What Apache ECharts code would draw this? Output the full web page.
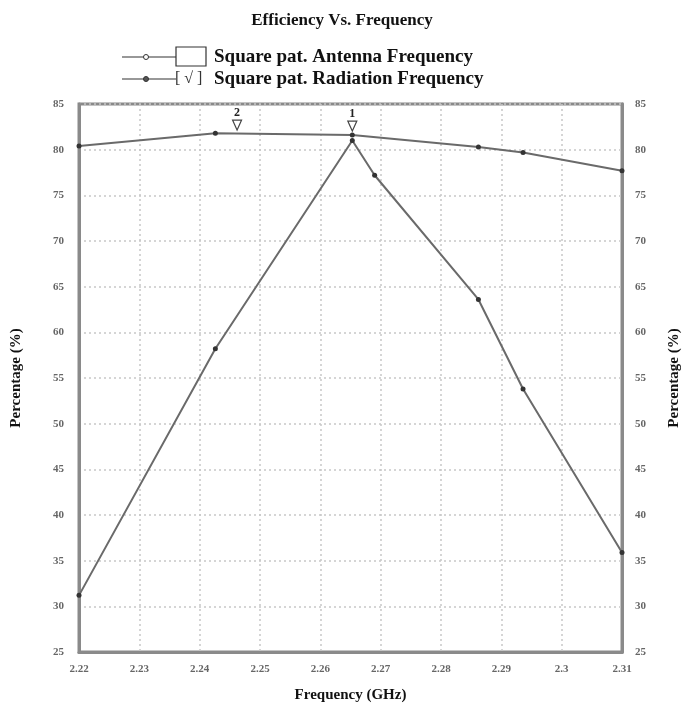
<!DOCTYPE html>
<html>
<head>
<meta charset="utf-8">
<script src="https://cdn.jsdelivr.net/npm/echarts@6/dist/echarts.min.js"></script>
<style>
  html, body { margin: 0; padding: 0; background: #fff; }
  #main { width: 684px; height: 709px; }
</style>
</head>
<body>
<div id="main"></div>
<script>
// Data
var antennaFreq = [2.22, 2.2426, 2.2653, 2.2862, 2.2936, 2.31];
var antennaEff = [80.4, 81.8, 81.6, 80.3, 79.7, 77.7];
var radiationFreq = [2.22, 2.2426, 2.2653, 2.2690, 2.2862, 2.2936, 2.31];
var radiationEff = [31.2, 58.2, 81.0, 77.2, 63.6, 53.8, 35.9];
var markerFreq = [2.2462, 2.2653];
var markerEff = [81.7, 81.6];
var markerNames = ['2', '1'];

var serif = '"Liberation Serif", "DejaVu Serif", serif';
var lineColor = '#6a6a6a';

function pairs(xs, ys) {
  return xs.map(function (x, i) { return [x, ys[i]]; });
}

var myChart = echarts.init(document.getElementById('main'));

var yAxisCommon = {
  type: 'value',
  min: 25,
  max: 85,
  interval: 5,
  name: 'Percentage (%)',
  nameLocation: 'center',
  nameTextStyle: { fontFamily: serif, fontWeight: 'bold', fontSize: 15, color: '#111' },
  axisLine: { show: true, lineStyle: { color: '#8a8a8a', width: 3 } },
  axisTick: { show: false }
};

var labelStyle = { fontFamily: serif, fontSize: 11, color: '#666', fontWeight: 'bold' };

var option = {
  animation: false,
  backgroundColor: '#fff',
  title: {
    text: 'Efficiency Vs. Frequency',
    left: 'center',
    top: 7,
    textStyle: { fontFamily: serif, fontWeight: 'bold', fontSize: 17, color: '#111' }
  },
  grid: {
    left: 79, right: 62, top: 104, bottom: 57,
    outerBoundsMode: 'none',
    containLabel: false,
    show: true, borderColor: '#8a8a8a', borderWidth: 3
  },
  xAxis: {
    type: 'value',
    min: 2.22,
    max: 2.31,
    interval: 0.01,
    name: 'Frequency (GHz)',
    nameLocation: 'center',
    nameGap: 36,
    nameTextStyle: { fontFamily: serif, fontWeight: 'bold', fontSize: 15, color: '#111' },
    axisLine: { lineStyle: { color: '#8a8a8a', width: 3 } },
    axisTick: { show: false },
    axisLabel: Object.assign({}, labelStyle, {
      margin: 12,
      formatter: function (v) { return String(Math.round(v * 100) / 100); }
    }),
    splitLine: { show: true, lineStyle: { color: '#c8c8c8', type: [2, 3], width: 1.5 } }
  },
  yAxis: [
    Object.assign({}, yAxisCommon, {
      position: 'left',
      nameGap: 55,
      axisLabel: Object.assign({}, labelStyle, { margin: 15 }),
      splitLine: { show: true, lineStyle: { color: '#c8c8c8', type: [2, 3], width: 1.5 } }
    }),
    Object.assign({}, yAxisCommon, {
      position: 'right',
      nameGap: 45,
      axisLabel: Object.assign({}, labelStyle, { margin: 13 }),
      splitLine: { show: false }
    })
  ],
  graphic: [
    // legend row 1
    { type: 'line', shape: { x1: 122, y1: 57, x2: 176, y2: 57 }, style: { stroke: '#333', lineWidth: 1.2 } },
    { type: 'circle', shape: { cx: 146, cy: 57, r: 2.5 }, style: { fill: '#fff', stroke: '#333', lineWidth: 1 } },
    { type: 'rect', shape: { x: 176, y: 47, width: 30, height: 19 }, style: { fill: '#fff', stroke: '#333', lineWidth: 1.2 } },
    { type: 'text', x: 214, y: 57, style: { text: 'Square pat. Antenna Frequency', fill: '#111', font: 'bold 19px ' + serif, textVerticalAlign: 'middle' } },
    // legend row 2
    { type: 'line', shape: { x1: 122, y1: 79, x2: 176, y2: 79 }, style: { stroke: '#333', lineWidth: 1.2 } },
    { type: 'circle', shape: { cx: 146, cy: 79, r: 2.5 }, style: { fill: '#555', stroke: '#333', lineWidth: 1 } },
    { type: 'text', x: 175, y: 79, style: { text: '[ \u221A ]', fill: '#333', font: '16px ' + serif, textVerticalAlign: 'middle' } },
    { type: 'text', x: 214, y: 79, style: { text: 'Square pat. Radiation Frequency', fill: '#111', font: 'bold 19px ' + serif, textVerticalAlign: 'middle' } }
  ],
  series: [
    {
      name: 'Square pat. Antenna Frequency',
      type: 'line',
      data: pairs(antennaFreq, antennaEff),
      symbol: 'circle',
      symbolSize: 5,
      itemStyle: { color: '#333' },
      lineStyle: { color: lineColor, width: 2 },
      markPoint: {
        symbol: 'path://M0,0 L10,0 L5,10 Z',
        symbolSize: [9, 10],
        symbolOffset: [0, -9],
        itemStyle: { color: '#fff', borderColor: '#444', borderWidth: 1.2 },
        label: { show: true, position: 'top', distance: 1, fontFamily: serif, fontWeight: 'bold', fontSize: 12, color: '#222' },
        data: markerNames.map(function (n, i) {
          return { name: n, coord: [markerFreq[i], markerEff[i]], value: n };
        })
      }
    },
    {
      name: 'Square pat. Radiation Frequency',
      type: 'line',
      data: pairs(radiationFreq, radiationEff),
      symbol: 'circle',
      symbolSize: 5,
      itemStyle: { color: '#333' },
      lineStyle: { color: lineColor, width: 2 }
    }
  ]
};

myChart.setOption(option);
</script>
</body>
</html>
